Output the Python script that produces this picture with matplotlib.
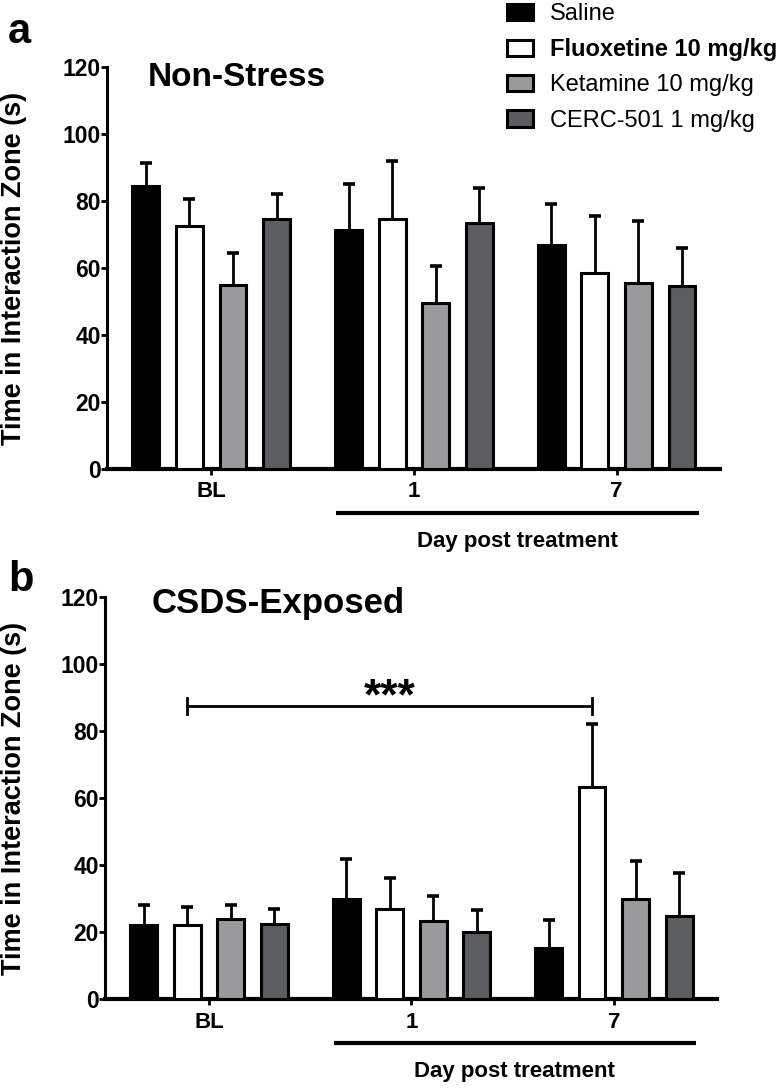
import matplotlib
matplotlib.use("Agg")
import matplotlib.pyplot as plt
import numpy as np
from matplotlib.patches import Patch

plt.rcParams['font.family'] = ['Liberation Sans', 'DejaVu Sans']

days = ["BL", "1", "7"]
groups = ["Saline", "Fluoxetine 10 mg/kg", "Ketamine 10 mg/kg", "CERC-501 1 mg/kg"]
colors = ["#000000", "#ffffff", "#9a9a9c", "#5c5d61"]

# Non-Stress means and upper error (mean + SEM) per group, per day
ns_mean = {
    "Saline": [84.5, 71.5, 67.0],
    "Fluoxetine 10 mg/kg": [72.5, 74.5, 58.5],
    "Ketamine 10 mg/kg": [55.0, 49.5, 55.5],
    "CERC-501 1 mg/kg": [74.5, 73.5, 54.5],
}
ns_top = {
    "Saline": [91.5, 85.0, 79.0],
    "Fluoxetine 10 mg/kg": [80.5, 92.0, 75.5],
    "Ketamine 10 mg/kg": [64.5, 60.5, 74.0],
    "CERC-501 1 mg/kg": [82.0, 84.0, 66.0],
}
# CSDS-Exposed
cs_mean = {
    "Saline": [22.0, 30.0, 15.2],
    "Fluoxetine 10 mg/kg": [22.0, 27.0, 63.3],
    "Ketamine 10 mg/kg": [23.8, 23.3, 29.8],
    "CERC-501 1 mg/kg": [22.3, 20.0, 24.8],
}
cs_top = {
    "Saline": [28.2, 41.8, 23.5],
    "Fluoxetine 10 mg/kg": [27.5, 36.0, 82.0],
    "Ketamine 10 mg/kg": [28.0, 30.8, 41.3],
    "CERC-501 1 mg/kg": [27.0, 26.7, 37.5],
}
sig_y = 87.5
sig_text = "***"

fig = plt.figure(figsize=(7.8, 10.89), dpi=100)

H = 0.3691
axA = fig.add_axes([107/780, 1 - 469/1089, (720-107)/780, H])
axB = fig.add_axes([105/780, 1 - 999/1089, (717-105)/780, H])

x = np.arange(len(days))
step = 0.215
width = 0.133
offsets = (np.arange(4) - 1.5) * step


def draw(ax, means, tops, title, title_y, title_x, title_size, label_x):
    for i, g in enumerate(groups):
        m = np.array(means[g])
        t = np.array(tops[g])
        xs = x + offsets[i]
        eb = ax.errorbar(xs, m, yerr=[np.zeros_like(m), t - m], fmt='none',
                         ecolor='black', elinewidth=2.0, capsize=4.5,
                         capthick=2.6, zorder=2)
        eb[1][0].set_visible(False)
        ax.bar(xs, m, width=width, color=colors[i], edgecolor='black',
               linewidth=2.2, zorder=3)
    ax.set_xlim(-0.514, 2.51)
    ax.set_ylim(0, 120)
    ax.set_yticks(np.arange(0, 121, 20))
    ax.set_xticks(x)
    ax.set_xticklabels(days, fontsize=16, fontweight='bold')
    for lab in ax.get_yticklabels():
        lab.set_fontsize(16.5)
        lab.set_fontweight('bold')
    ax.spines['top'].set_visible(False)
    ax.spines['right'].set_visible(False)
    ax.spines['left'].set_linewidth(2.2)
    ax.spines['bottom'].set_linewidth(3.0)
    ax.tick_params(axis='y', length=4, width=2, pad=0.5)
    ax.tick_params(axis='x', length=4, width=2, pad=5)
    ax.set_ylabel("Time in Interaction Zone (s)", fontsize=19.5,
                  fontweight='bold')
    ax.yaxis.set_label_coords(label_x, 0.5)
    ax.text(title_x, title_y, title, transform=ax.transAxes,
            fontsize=title_size, fontweight='bold', va='top', ha='left')
    trans = ax.get_xaxis_transform()
    ax.plot([0.617, 2.405], [-0.109, -0.109], transform=trans, color='black',
            lw=3, clip_on=False, solid_capstyle='butt')
    ax.text(1.51, -0.18, "Day post treatment", transform=trans, fontsize=16,
            fontweight='bold', ha='center', va='center')


draw(axA, ns_mean, ns_top, "Non-Stress", 1.012, 0.067, 24, -0.1305)
draw(axB, cs_mean, cs_top, "CSDS-Exposed", 1.025, 0.077, 25, -0.1275)

# significance bracket: Fluoxetine BL vs Fluoxetine day 7
x0 = x[0] + offsets[1]
x1 = x[2] + offsets[1]
axB.plot([x0, x1], [sig_y, sig_y], color='black', lw=2, zorder=4)
axB.plot([x0, x0], [sig_y - 2.4, sig_y + 2.4], color='black', lw=2)
axB.plot([x1, x1], [sig_y - 2.4, sig_y + 2.4], color='black', lw=2)
axB.text((x0 + x1) / 2, sig_y - 3.8, sig_text, ha='center', va='bottom',
         fontsize=32, fontweight='bold')

fig.text(8/780, 1 - 32/1089, "a", fontsize=30, fontweight='bold', va='center')
fig.text(8/780, 1 - 580/1089, "b", fontsize=30, fontweight='bold', va='center')

handles = [Patch(facecolor=c, edgecolor='black', linewidth=2.2) for c in colors]
leg = fig.legend(handles, groups, loc='upper left',
                 bbox_to_anchor=(507/780, 1 - 3/1089), frameon=False,
                 fontsize=17, borderpad=0, borderaxespad=0,
                 handlelength=1.1, handleheight=0.68, handletextpad=0.72,
                 labelspacing=0.56)
leg.get_texts()[1].set_fontweight('bold')

fig.savefig("out.png", dpi=100)
